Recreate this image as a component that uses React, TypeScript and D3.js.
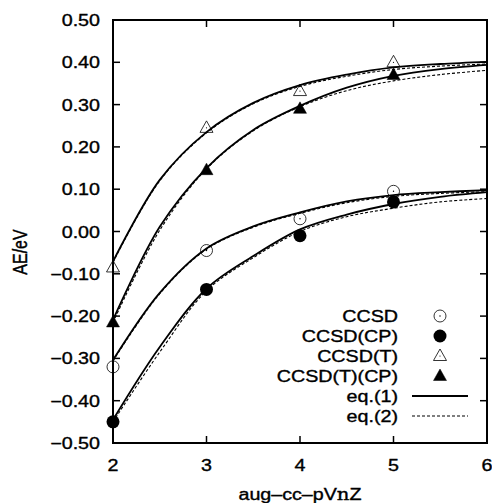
import React from "react";
import * as d3 from "d3";

// Layout
const W = 492;
const H = 503;
const plot = { left: 113, right: 487, top: 20, bottom: 443 };
const FONT = "'Liberation Sans', Arial, sans-serif";
const STRETCH = 1.23; // the source figure is a little stretched sideways

// Data
const basisSizes = [2, 3, 4, 5];
const ccsd = [-0.32, -0.045, 0.03, 0.095];
const ccsdCP = [-0.45, -0.137, -0.01, 0.07];
const ccsdT = [-0.085, 0.245, 0.332, 0.4];
const ccsdTCP = [-0.215, 0.145, 0.29, 0.37];

// fitted curves
const curveN = [2, 2.5, 3, 3.5, 4, 4.5, 5, 5.5, 6];
const ccsdEq1 = [-0.304, -0.145, -0.04, 0.012, 0.045, 0.071, 0.086, 0.093, 0.098];
const ccsdEq2 = [-0.306, -0.147, -0.042, 0.01, 0.043, 0.068, 0.083, 0.09, 0.094];
const ccsdCPEq1 = [-0.445, -0.273, -0.135, -0.058, 0.005, 0.04, 0.065, 0.082, 0.093];
const ccsdCPEq2 = [-0.45, -0.285, -0.14, -0.062, 0.0, 0.035, 0.055, 0.07, 0.078];
const ccsdTEq1 = [-0.071, 0.122, 0.235, 0.304, 0.346, 0.371, 0.388, 0.396, 0.401];
const ccsdTEq2 = [-0.073, 0.12, 0.233, 0.302, 0.343, 0.367, 0.383, 0.391, 0.396];
const ccsdTCPEq1 = [-0.209, 0.011, 0.15, 0.24, 0.297, 0.34, 0.368, 0.384, 0.394];
const ccsdTCPEq2 = [-0.215, 0.003, 0.148, 0.238, 0.295, 0.333, 0.356, 0.371, 0.381];

const xTicks = [2, 3, 4, 5, 6];
const yTicks = d3.range(-5, 6).map((i) => i / 10);

const pointSeries = [
  { name: "CCSD", values: ccsd, marker: "circle", filled: false },
  { name: "CCSD(CP)", values: ccsdCP, marker: "circle", filled: true },
  { name: "CCSD(T)", values: ccsdT, marker: "triangle", filled: false },
  { name: "CCSD(T)(CP)", values: ccsdTCP, marker: "triangle", filled: true },
];
const eq1Curves = [ccsdEq1, ccsdCPEq1, ccsdTEq1, ccsdTCPEq1];
const eq2Curves = [ccsdEq2, ccsdCPEq2, ccsdTEq2, ccsdTCPEq2];

const x = d3.scaleLinear().domain([2, 6]).range([plot.left, plot.right]);
const y = d3.scaleLinear().domain([-0.5, 0.5]).range([plot.bottom, plot.top]);

const line = d3
  .line<number>()
  .x((_, i) => x(curveN[i]))
  .y((d) => y(d))
  .curve(d3.curveCatmullRom.alpha(0.5));

const Marker = ({ cx, cy, marker, filled }) => {
  if (marker === "circle") {
    return (
      <g>
        <circle
          cx={cx}
          cy={cy}
          r={filled ? 6.5 : 6}
          fill={filled ? "#000" : "none"}
          stroke="#000"
          strokeWidth={filled ? 0 : 0.8}
        />
        {!filled && <circle cx={cx} cy={cy} r={0.7} fill="#000" />}
      </g>
    );
  }
  const tri = `M${cx},${cy - 7} L${cx + 6.5},${cy + 4.5} L${cx - 6.5},${cy + 4.5} Z`;
  return (
    <g>
      <path d={tri} fill={filled ? "#000" : "none"} stroke="#000" strokeWidth={filled ? 0.5 : 0.8} />
      {!filled && <circle cx={cx} cy={cy} r={0.6} fill="#000" />}
    </g>
  );
};

// stretched text helper
const SText = ({ x0, y0, anchor = "start", children, size = 16 }) => (
  <text
    transform={`translate(${x0},${y0}) scale(${STRETCH},1)`}
    textAnchor={anchor}
    fontFamily={FONT}
    fontSize={size}
    fill="#000"
    stroke="#000"
    strokeWidth={0.35}
  >
    {children}
  </text>
);

const legendTextX = 398;
const legendSymX = 440;
const legendRowY = [316, 336, 356, 376, 396, 416];

export default function App() {
  return (
    <svg width={W} height={H} style={{ display: "block", position: "absolute", left: 0, top: 0 }}>
      <rect width={W} height={H} fill="#fff" />

      {/* fits */}
      {eq1Curves.map((c, i) => (
        <path key={"e1" + i} d={line(c)} fill="none" stroke="#000" strokeWidth={1.8} />
      ))}
      {eq2Curves.map((c, i) => (
        <path key={"e2" + i} d={line(c)} fill="none" stroke="#000" strokeWidth={1.1} strokeDasharray="3,2" />
      ))}

      {/* points */}
      {pointSeries.map((s) =>
        s.values.map((v, i) => (
          <Marker key={s.name + i} cx={x(basisSizes[i])} cy={y(v)} marker={s.marker} filled={s.filled} />
        ))
      )}

      {/* frame */}
      <rect
        x={plot.left}
        y={plot.top}
        width={plot.right - plot.left}
        height={plot.bottom - plot.top}
        fill="none"
        stroke="#000"
        strokeWidth={2}
      />

      {/* ticks inside on all four sides */}
      {xTicks.map((t) => (
        <g key={"xt" + t}>
          <line x1={x(t)} x2={x(t)} y1={plot.bottom} y2={plot.bottom - 7} stroke="#000" strokeWidth={1.5} />
          <line x1={x(t)} x2={x(t)} y1={plot.top} y2={plot.top + 7} stroke="#000" strokeWidth={1.5} />
          <SText x0={x(t)} y0={plot.bottom + 28} anchor="middle">
            {t}
          </SText>
        </g>
      ))}
      {yTicks.map((t) => (
        <g key={"yt" + t}>
          <line x1={plot.left} x2={plot.left + 7} y1={y(t)} y2={y(t)} stroke="#000" strokeWidth={1.5} />
          <line x1={plot.right} x2={plot.right - 7} y1={y(t)} y2={y(t)} stroke="#000" strokeWidth={1.5} />
          <SText x0={plot.left - 13} y0={y(t) + 6} anchor="end">
            {d3.format(".2f")(t).replace("-", "\u2212")}
          </SText>
        </g>
      ))}

      {/* axis titles */}
      <SText x0={x(4)} y0={500} anchor="middle">
        aug{"\u2013"}cc{"\u2013"}pV
        <tspan fontFamily="'DejaVu Serif', serif">n</tspan>Z
      </SText>
      <text
        transform={`translate(27,252) rotate(-90) scale(1,${STRETCH})`}
        textAnchor="middle"
        fontFamily={FONT}
        fontSize={16}
        stroke="#000"
        strokeWidth={0.35}
      >
        AE/eV
      </text>

      {/* legend */}
      {pointSeries.map((s, i) => (
        <g key={"lg" + s.name}>
          <SText x0={legendTextX} y0={legendRowY[i] + 6} anchor="end">
            {s.name}
          </SText>
          <Marker cx={legendSymX} cy={legendRowY[i]} marker={s.marker} filled={s.filled} />
        </g>
      ))}
      <SText x0={legendTextX} y0={legendRowY[4] + 6} anchor="end">
        eq.(1)
      </SText>
      <line x1={412} x2={468} y1={legendRowY[4]} y2={legendRowY[4]} stroke="#000" strokeWidth={1.8} />
      <SText x0={legendTextX} y0={legendRowY[5] + 6} anchor="end">
        eq.(2)
      </SText>
      <line
        x1={412}
        x2={468}
        y1={legendRowY[5]}
        y2={legendRowY[5]}
        stroke="#000"
        strokeWidth={1.1}
        strokeDasharray="3,2"
      />
    </svg>
  );
}
